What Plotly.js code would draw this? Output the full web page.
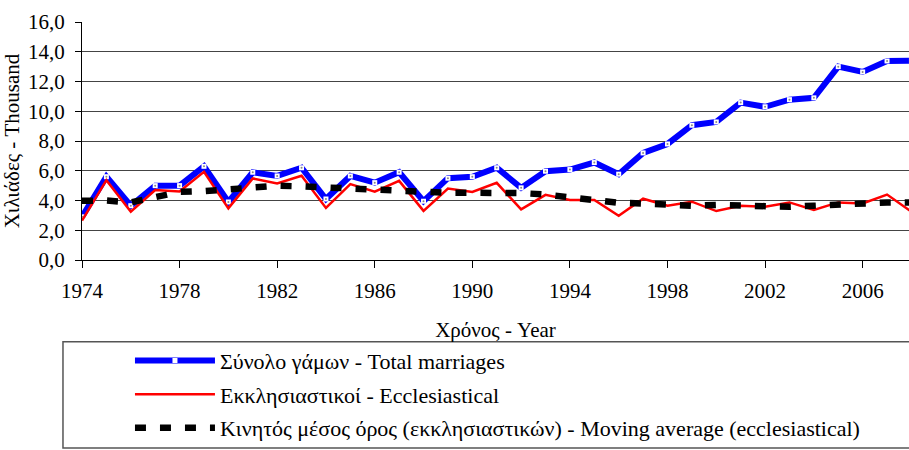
<!DOCTYPE html>
<html>
<head>
<meta charset="utf-8">
<script src="https://cdn.plot.ly/plotly-3.0.1.min.js"></script>
<style>html,body{margin:0;padding:0;background:#fff;}#chart{width:909px;height:450px;}</style>
</head>
<body>
<div id="chart"></div>
<script>
const years = [1974,1975,1976,1977,1978,1979,1980,1981,1982,1983,1984,1985,1986,1987,1988,1989,1990,1991,1992,1993,1994,1995,1996,1997,1998,1999,2000,2001,2002,2003,2004,2005,2006,2007,2008];
const totalMarriages = [2.9,5.6,3.65,5.0,5.0,6.3,3.9,5.9,5.65,6.2,4.1,5.65,5.2,5.9,3.95,5.5,5.6,6.2,4.85,5.97,6.08,6.55,5.77,7.2,7.8,9.06,9.28,10.58,10.3,10.78,10.9,13.0,12.64,13.38,13.4];
const ecclesiastical = [2.65,5.37,3.25,4.7,4.6,5.93,3.47,5.48,5.15,5.66,3.5,5.1,4.6,5.32,3.3,4.8,4.58,5.19,3.4,4.38,4.03,4.03,2.97,4.12,3.65,3.92,3.29,3.65,3.58,3.87,3.36,3.87,3.8,4.4,3.25];
const movingAverage = [3.98,4.0,3.87,4.18,4.58,4.63,4.74,4.92,4.99,4.95,4.88,4.78,4.68,4.6,4.56,4.52,4.52,4.52,4.5,4.4,4.2,3.98,3.85,3.8,3.74,3.65,3.7,3.65,3.65,3.58,3.65,3.74,3.8,3.87,3.87];
const seriesNames = ["Σύνολο γάμων - Total marriages","Εκκλησιαστικοί - Ecclesiastical","Κινητός μέσος όρος (εκκλησιαστικών) - Moving average (ecclesiastical)"];

const FONT = "'Liberation Serif', 'Times New Roman', serif";

const traces = [
  {x: years, y: totalMarriages, name: seriesNames[0], type: 'scatter', mode: 'lines+markers',
   line: {color: '#0000ff', width: 6}, marker: {symbol: 'square', size: 5, color: '#ffffff', line: {width: 0}},
   legendgroup: 'a'},
  {x: years, y: totalMarriages, type: 'scatter', mode: 'markers', showlegend: false, hoverinfo: 'skip',
   marker: {symbol: 'circle', size: 2, color: '#888888', line: {width: 0}}, legendgroup: 'a'},
  {x: years, y: ecclesiastical, name: seriesNames[1], type: 'scatter', mode: 'lines',
   line: {color: '#ff0000', width: 2.5}, legendgroup: 'b'},
  {x: years, y: movingAverage, name: seriesNames[2], type: 'scatter', mode: 'lines',
   line: {color: '#000000', width: 6.5, dash: '11px,14px'}, legendgroup: 'c'}
];

const layout = {
  width: 909, height: 450,
  margin: {l: 82, r: 0, t: 22, b: 190, pad: 0},
  paper_bgcolor: '#ffffff', plot_bgcolor: '#ffffff',
  separators: ',.',
  font: {family: FONT, size: 21, color: '#000000'},
  showlegend: true,
  xaxis: {
    range: [1974, 2007.9], tick0: 1974, dtick: 4, tickformat: 'd',
    showgrid: false, zeroline: false, showline: true, linecolor: '#000', linewidth: 1,
    ticks: 'outside', ticklen: 7, tickcolor: '#000', tickwidth: 1, ticklabelstandoff: 5,
    tickfont: {family: FONT, size: 21, color: '#000'},
    title: {text: 'Χρόνος - Year', font: {family: FONT, size: 21, color: '#000'}, standoff: 20}
  },
  xaxis2: {
    overlaying: 'x', matches: 'x', anchor: 'y', side: 'bottom',
    tick0: 1974, dtick: 4, showgrid: false, zeroline: false, showline: false,
    ticks: 'inside', ticklen: 5, tickcolor: '#000', tickwidth: 1, showticklabels: false
  },
  yaxis: {
    range: [0, 16], tick0: 0, dtick: 2, tickformat: '.1f',
    showgrid: true, gridcolor: '#444', gridwidth: 1, zeroline: false,
    showline: true, linecolor: '#000', linewidth: 1,
    ticks: 'outside', ticklen: 6, tickcolor: '#000', tickwidth: 1, ticklabelstandoff: 6,
    tickfont: {family: FONT, size: 21, color: '#000'},
    title: {text: 'Χιλιάδες - Thousand', font: {family: FONT, size: 21, color: '#000'}, standoff: 3}
  },
  legend: {
    x: 0.058, y: -0.335, xanchor: 'left', yanchor: 'top',
    bgcolor: 'rgba(0,0,0,0)', borderwidth: 0,
    font: {family: FONT, size: 22, color: '#000'},
    tracegroupgap: 2, itemwidth: 80, traceorder: 'grouped'
  },
  shapes: [
    {type: 'rect', xref: 'paper', yref: 'paper', x0: -0.023, x1: 1.01, y0: -0.344, y1: -0.79,
     line: {color: '#555', width: 1.5}, fillcolor: 'rgba(0,0,0,0)', layer: 'below'}
  ]
};

Plotly.newPlot('chart', traces, layout, {displayModeBar: false, staticPlot: true});
</script>
</body>
</html>
